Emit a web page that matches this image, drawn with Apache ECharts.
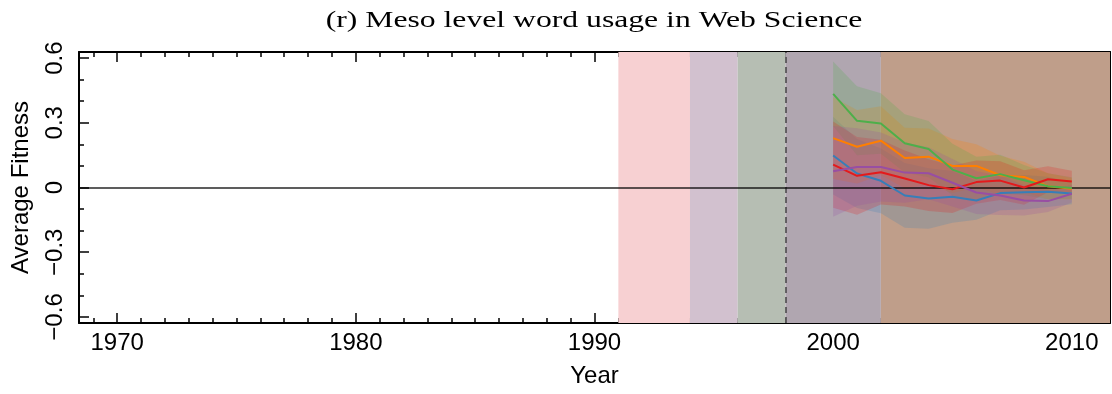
<!DOCTYPE html>
<html>
<head>
<meta charset="utf-8">
<script src="https://cdn.jsdelivr.net/npm/echarts@6/dist/echarts.min.js"></script>
<style>
  html, body { margin: 0; padding: 0; background: #fff; }
  #chart { width: 1112px; height: 394px; }
</style>
</head>
<body>
<div id="chart"></div>
<script>
// ---- data ----
const years = [2000, 2001, 2002, 2003, 2004, 2005, 2006, 2007, 2008, 2009, 2010];

const greenMean  = [0.434, 0.309, 0.297, 0.205, 0.178, 0.083, 0.043, 0.062, 0.034, 0.006, -0.002];
const orangeMean = [0.229, 0.189, 0.217, 0.137, 0.143, 0.100, 0.100, 0.057, 0.049, 0.006, -0.006];
const blueMean   = [0.148, 0.065, 0.031, -0.037, -0.051, -0.043, -0.060, -0.026, -0.022, -0.020, -0.028];
const redMean    = [0.106, 0.054, 0.071, 0.042, 0.011, -0.008, 0.025, 0.032, 0.000, 0.038, 0.028];
const purpleMean = [0.075, 0.095, 0.095, 0.069, 0.066, 0.022, -0.023, -0.037, -0.060, -0.063, -0.029];

// half-width of the shaded spread around each mean
const greenSpread  = [0.15, 0.16, 0.14, 0.135, 0.13, 0.12, 0.10, 0.09, 0.07, 0.06, 0.05];
const orangeSpread = [0.19, 0.17, 0.16, 0.14, 0.13, 0.125, 0.10, 0.09, 0.07, 0.06, 0.05];
const blueSpread   = [0.18, 0.16, 0.15, 0.15, 0.14, 0.12, 0.09, 0.08, 0.08, 0.07, 0.05];
const redSpread    = [0.20, 0.18, 0.15, 0.13, 0.12, 0.11, 0.10, 0.09, 0.08, 0.06, 0.05];
const purpleSpread = [0.21, 0.18, 0.16, 0.14, 0.12, 0.11, 0.10, 0.09, 0.07, 0.05, 0.04];

// period spans [start, end)
const periodStarts = [1991, 1994, 1996, 1998, 2002];
const periodEnds   = [1994, 1996, 1998, 2002, 2011.6];
const periodColors = ['#f7d0d2', '#d2c1cf', '#b6beb3', '#b0a6b0', '#bf9e8a'];
const dividerYear = 1998;

const xMajorTicks = [1970, 1980, 1990, 2000, 2010];
const xMinorTicks = [];
for (let y = 1969; y <= 2011; y++) xMinorTicks.push(y);
const yMajorTicks = [-0.6, -0.3, 0, 0.3, 0.6];
const yMinorTicks = [-0.6, -0.5, -0.4, -0.3, -0.2, -0.1, 0, 0.1, 0.2, 0.3, 0.4, 0.5, 0.6];

const X_MIN = 1968.4, X_MAX = 2011.6;
const Y_MIN = -0.628, Y_MAX = 0.628;

const chartTitle = '(r) Meso level word usage in Web Science';

const lines = [
  { key: 'blue',   color: '#377eb8', mean: blueMean,   spread: blueSpread },
  { key: 'orange', color: '#ff7f00', mean: orangeMean, spread: orangeSpread },
  { key: 'green',  color: '#4daf4a', mean: greenMean,  spread: greenSpread },
  { key: 'red',    color: '#e41a1c', mean: redMean,    spread: redSpread },
  { key: 'purple', color: '#984ea3', mean: purpleMean, spread: purpleSpread }
];

// ---- chart ----
const chart = echarts.init(document.getElementById('chart'), null, { renderer: 'canvas' });

const TICK_FONT = 'Liberation Sans, Arial, sans-serif';
const minusFmt = v => {
  const r = Math.round(v * 10) / 10;
  if (r === 0) return '0';
  return (r < 0 ? '\u2212' : '') + Math.abs(r).toFixed(1);
};

function xAxisDef(pos, major, withLine) {
  return {
    type: 'value', min: X_MIN, max: X_MAX, position: pos, offset: 0,
    axisLine: { show: withLine, onZero: false, lineStyle: { color: '#000', width: 2 } },
    axisTick: { show: true, inside: true, length: major ? 10 : 5,
                customValues: major ? xMajorTicks : xMinorTicks,
                lineStyle: { color: '#000', width: 1.5 } },
    axisLabel: { show: major && pos === 'bottom', customValues: xMajorTicks,
                 fontFamily: TICK_FONT, fontSize: 24, color: '#000', margin: 8,
                 formatter: v => String(Math.round(v)) },
    splitLine: { show: false },
    name: (major && pos === 'bottom') ? 'Year' : '',
    nameLocation: 'middle', nameGap: 41,
    nameTextStyle: { fontFamily: TICK_FONT, fontSize: 24, color: '#000' }
  };
}
function yAxisDef(pos, major, withLine) {
  return {
    type: 'value', min: Y_MIN, max: Y_MAX, position: pos, offset: 0,
    axisLine: { show: withLine, onZero: false, lineStyle: { color: '#000', width: 2 } },
    axisTick: { show: true, inside: true, length: major ? 10 : 5,
                customValues: major ? yMajorTicks : yMinorTicks,
                lineStyle: { color: '#000', width: 1.5 } },
    axisLabel: { show: major && pos === 'left', customValues: yMajorTicks, rotate: 90,
                 fontFamily: TICK_FONT, fontSize: 24, color: '#000', margin: 12,
                 formatter: minusFmt },
    splitLine: { show: false },
    name: (major && pos === 'left') ? 'Average Fitness' : '',
    nameLocation: 'middle', nameGap: 46,
    nameTextStyle: { fontFamily: TICK_FONT, fontSize: 24, color: '#000' }
  };
}

// shaded spread polygon drawn through the axis scales
function bandSeries(line) {
  return {
    type: 'custom', xAxisIndex: 0, yAxisIndex: 0, z: 3,
    silent: true,
    data: years.map((y, i) => [y, line.mean[i]]),
    renderItem: function (params, api) {
      if (params.dataIndex !== 0) return null;
      const upper = years.map((y, i) => api.coord([y, line.mean[i] + line.spread[i]]));
      const lower = years.map((y, i) => api.coord([y, line.mean[i] - line.spread[i]])).reverse();
      return {
        type: 'polygon',
        shape: { points: upper.concat(lower) },
        style: { fill: line.color, opacity: 0.22 }
      };
    }
  };
}

const series = [];

// background period spans, divider and zero line
series.push({
  type: 'line', xAxisIndex: 0, yAxisIndex: 0, data: [], z: 1, silent: true,
  markArea: {
    silent: true,
    data: periodStarts.map((s, i) => [
      { xAxis: s, itemStyle: { color: periodColors[i], opacity: 1 } },
      { xAxis: periodEnds[i] }
    ])
  },
  markLine: {
    silent: true, symbol: 'none', label: { show: false },
    data: [
      { xAxis: dividerYear, lineStyle: { color: '#444', width: 1.5, type: [6, 4] } },
      { yAxis: 0, lineStyle: { color: '#000', width: 1.5, type: 'solid', opacity: 0.85 } }
    ]
  }
});

lines.forEach(l => series.push(bandSeries(l)));

lines.forEach(l => series.push({
  type: 'line', name: l.key, xAxisIndex: 0, yAxisIndex: 0, z: 5,
  data: years.map((y, i) => [y, l.mean[i]]),
  showSymbol: false, symbol: 'none',
  lineStyle: { color: l.color, width: 2 },
  itemStyle: { color: l.color },
  animation: false
}));

chart.setOption({
  animation: false,
  backgroundColor: '#fff',
  // title as a widened serif text element centred over the plot
  graphic: [{
    type: 'text', x: 594, y: 21, scaleX: 1.32, scaleY: 1,
    silent: true,
    style: {
      text: chartTitle,
      font: '24px "Liberation Serif", serif',
      fill: '#000', textAlign: 'center', textVerticalAlign: 'middle'
    }
  }],
  grid: { left: 79, right: 2, top: 52, bottom: 71 },
  xAxis: [
    xAxisDef('bottom', true, true),
    xAxisDef('bottom', false, false),
    xAxisDef('top', true, true),
    xAxisDef('top', false, false)
  ],
  yAxis: [
    yAxisDef('left', true, true),
    yAxisDef('left', false, false),
    yAxisDef('right', true, true),
    yAxisDef('right', false, false)
  ],
  series: series
});
</script>
</body>
</html>
